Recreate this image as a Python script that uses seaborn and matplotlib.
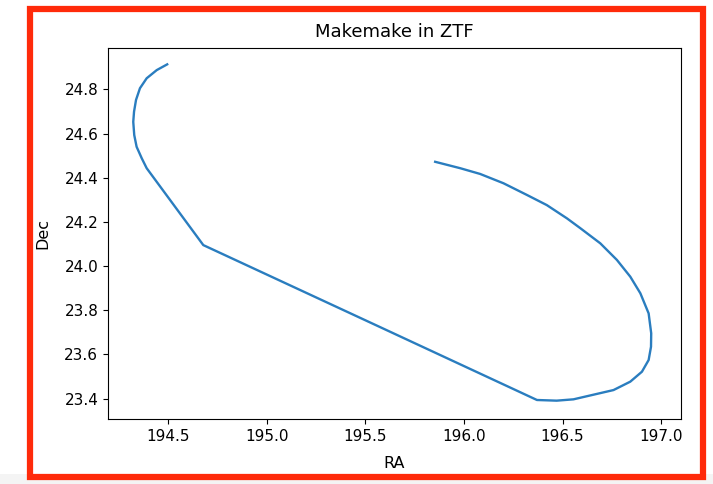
import matplotlib
matplotlib.use('Agg')
import pandas as pd
import seaborn as sns

from matplotlib import pyplot as plt
from matplotlib.patches import Rectangle

# Bahn von Makemake (RA/Dec in Grad)
ra = [194.496, 194.443, 194.392, 194.358, 194.338, 194.328, 194.324,
      194.329, 194.341, 194.367, 194.392, 194.679, 195.582, 196.370,
      196.470, 196.555, 196.758, 196.843, 196.902, 196.936, 196.948,
      196.949, 196.936, 196.894, 196.843, 196.775, 196.691, 196.589,
      196.522, 196.420, 196.319, 196.200, 196.082, 195.981, 195.854]
dec = [24.913, 24.887, 24.850, 24.805, 24.752, 24.699, 24.653,
       24.593, 24.540, 24.488, 24.443, 24.095, 23.721, 23.394,
       23.391, 23.397, 23.439, 23.477, 23.522, 23.575, 23.635,
       23.696, 23.786, 23.877, 23.952, 24.028, 24.103, 24.172,
       24.216, 24.276, 24.322, 24.375, 24.417, 24.443, 24.472]

title = 'Makemake in ZTF'
xlabel = 'RA'
ylabel = 'Dec'
xticks = [194.5, 195.0, 195.5, 196.0, 196.5, 197.0]
yticks = [23.4, 23.6, 23.8, 24.0, 24.2, 24.4, 24.6, 24.8]

bahn = pd.DataFrame({'RA': ra, 'Dec': dec})

fig = plt.figure(figsize=(7.13, 4.84), dpi=100)

# grauer Streifen unten und roter Rahmen (wie im Screenshot)
fig.patches.append(Rectangle((0, 0), 1, 10 / 484, transform=fig.transFigure,
                             facecolor='#f4f4f4', edgecolor='none', zorder=-3))
fig.patches.append(Rectangle((29.5 / 713, 7 / 484), 673.5 / 713, 468 / 484,
                             transform=fig.transFigure, facecolor='white',
                             edgecolor='#ff2a0a', linewidth=4.5, zorder=-2))

ax = fig.add_axes([108 / 713, 65 / 484, 573 / 713, 371 / 484])
sns.lineplot(data=bahn, x='RA', y='Dec', sort=False, estimator=None,
             color='#2a7dbf', linewidth=1.7, ax=ax)

ax.set_title(title, fontsize=13, pad=8)
ax.set_xlabel(xlabel, fontsize=11.5, labelpad=9)
ax.set_ylabel(ylabel, fontsize=11.5, labelpad=10)
ax.tick_params(labelsize=11)
ax.set_xticks(xticks)
ax.set_yticks(yticks)
ax.set_xlim(194.196, 197.10)
ax.set_ylim(23.308, 24.987)

fig.savefig('out.png', dpi=100)
